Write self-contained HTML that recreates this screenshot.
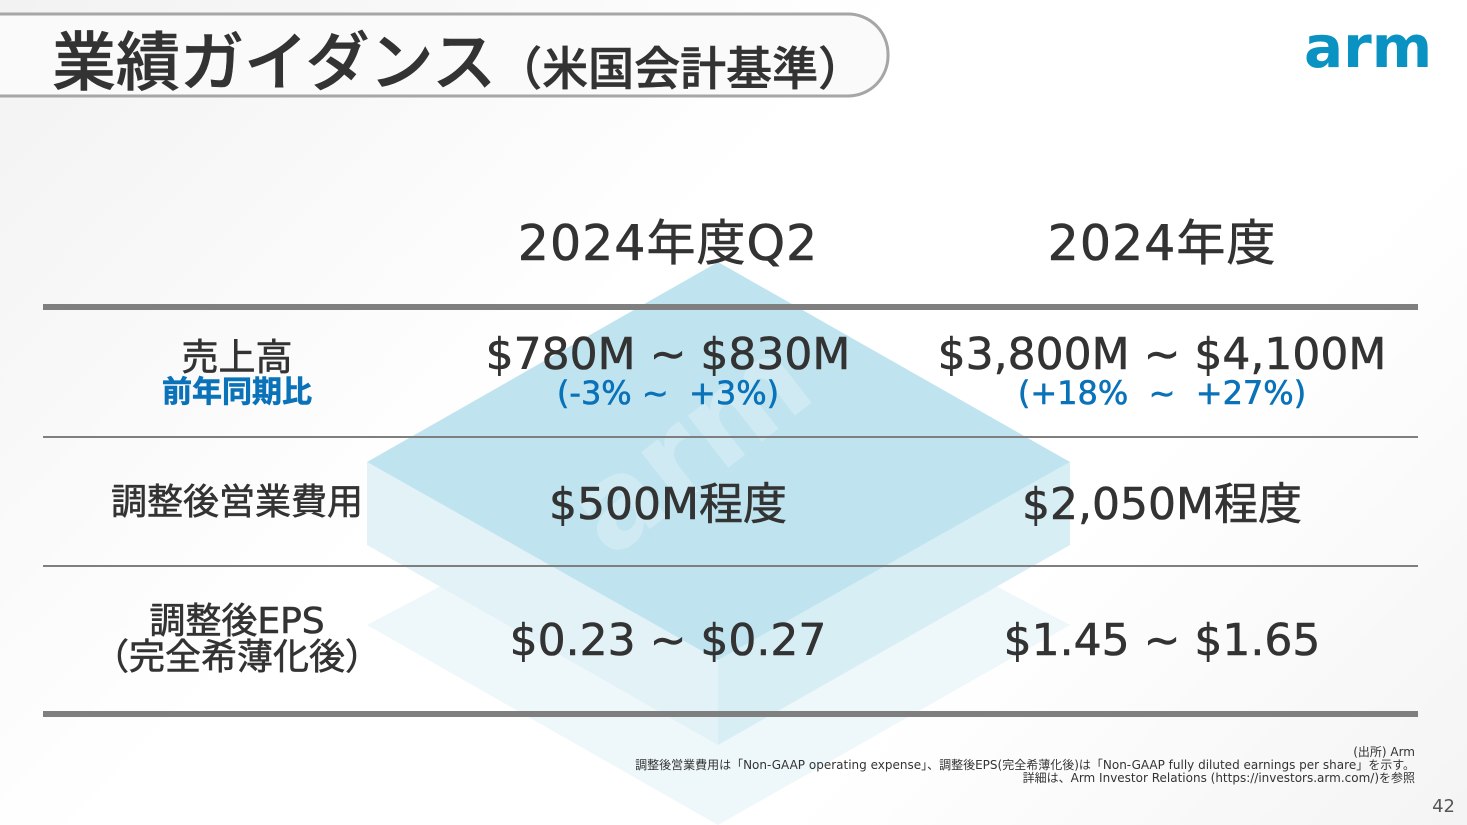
<!DOCTYPE html>
<html><head><meta charset="utf-8"><style>
html,body{margin:0;padding:0}
body{width:1467px;height:825px;overflow:hidden;position:relative;background:linear-gradient(135deg,#f2f2f2 0%,#ffffff 40%,#ffffff 70%,#f4f4f4 100%);font-family:"DejaVu Sans","Noto Sans CJK JP",sans-serif;color:#333}
.t{position:absolute;white-space:nowrap;transform:translateX(-50%);text-align:center;line-height:1;-webkit-text-stroke:0.6px currentColor}
.line{position:absolute;left:43px;width:1375px;background:#7f7f7f}
.b{color:#0a72b8}
.j{font-family:"Noto Sans CJK JP",sans-serif}
</style></head><body>
<svg width="1467" height="825" style="position:absolute;left:0;top:0">
<path d="M-10 14 H848 A40 40 0 0 1 888 54 V56 A40 40 0 0 1 848 96 H-10" fill="#fafafa" stroke="#a6a6a6" stroke-width="3"/>
<polygon points="718,440 1070,625 718,825 367,625" fill="#eef7fa"/>
<polygon points="367,462 718,660 718,745 367,545" fill="#e2f2f7"/>
<polygon points="1070,462 718,660 718,745 1070,545" fill="#d8eef5"/>
<polygon points="718,262 1070,462 718,660 367,462" fill="#c0e4ef"/>
<text x="0" y="0" transform="translate(610,560) rotate(-38)" font-family="DejaVu Sans" font-weight="bold" font-size="120" fill="#cfeaf3">arm</text>
</svg>
<div class="t j" style="top:26px;font-size:64px;color:#333;transform:none;left:52px;font-weight:500">業績ガイダンス<span style="font-size:46px">（米国会計基準）</span></div>
<div style="position:absolute;left:1304px;top:18px;font-size:58px;font-weight:bold;color:#0a93c2;line-height:1">arm</div>
<div class="t" style="left:668px;top:215px;font-size:49px;letter-spacing:1px">2024<span class="j">年度</span>Q2</div>
<div class="t" style="left:1162px;top:215px;font-size:49px;letter-spacing:1px">2024<span class="j">年度</span></div>
<div class="line" style="top:304px;height:6px"></div>
<div class="line" style="top:436px;height:2px"></div>
<div class="line" style="top:565px;height:2px"></div>
<div class="line" style="top:711px;height:6px"></div>
<div class="t j" style="left:237px;top:336px;font-size:37px">売上高</div>
<div class="t b j" style="left:237px;top:374px;font-size:30px;font-weight:bold">前年同期比</div>
<div class="t" style="left:668px;top:333px;font-size:44px">$780M ~ $830M</div>
<div class="t b" style="left:668px;top:377px;font-size:32px">(-3% ~&nbsp; +3%)</div>
<div class="t" style="left:1162px;top:333px;font-size:44px">$3,800M ~ $4,100M</div>
<div class="t b" style="left:1162px;top:377px;font-size:32px">(+18% &nbsp;~&nbsp; +27%)</div>
<div class="t j" style="left:237px;top:481px;font-size:36px">調整後営業費用</div>
<div class="t" style="left:668px;top:478px;font-size:44px">$500M<span class="j">程度</span></div>
<div class="t" style="left:1162px;top:478px;font-size:44px">$2,050M<span class="j">程度</span></div>
<div class="t" style="left:237px;top:600px;font-size:36px"><span class="j">調整後</span>EPS</div>
<div class="t j" style="left:237px;top:636px;font-size:36px">（完全希薄化後）</div>
<div class="t" style="left:668px;top:619px;font-size:44px">$0.23 ~ $0.27</div>
<div class="t" style="left:1162px;top:619px;font-size:44px">$1.45 ~ $1.65</div>
<div style="position:absolute;right:52px;top:746px;font-size:12px;line-height:13px;text-align:right;color:#333">(出所) Arm<br>調整後営業費用は「Non-GAAP operating expense」、調整後EPS(完全希薄化後)は「Non-GAAP fully diluted earnings per share」を示す。<br>詳細は、Arm Investor Relations (https://investors.arm.com/)を参照</div>
<div style="position:absolute;right:12px;top:796px;font-size:18px;color:#555">42</div>
</body></html>
